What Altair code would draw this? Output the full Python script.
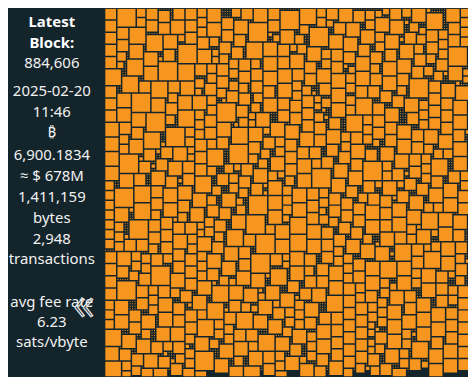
import altair as alt
import numpy as np
import pandas as pd

# ---------------- data ----------------
BG = "#14242b"
ORANGE = "#f7961f"

LABELS = ["Latest", "Block:", "884,606", "2025-02-20", "11:46", "₿",
          "6,900.1834", "≈ $ 678M", "1,411,159", "bytes", "2,948",
          "transactions", "avg fee rate", "6.23", "sats/vbyte"]
LABEL_Y = [21, 42, 62, 91, 112, 132, 155, 176, 197, 218, 239, 259, 302, 323, 343]
LABEL_BOLD = [1, 1, 0, 0, 0, 0, 0, 0, 0, 0, 0, 0, 0, 0, 0]

# transaction square sizes (grid units) in block order;
# letters are runs of the tiniest (1-unit) transactions
DOT_RUNS = {"a": 4, "b": 6, "c": 8, "d": 10, "e": 12}
TX_SIZES = [
    "5845b5546a4565c7456e35462b6548a5437d5465b4656",
    "45c6548a3546b2564d5457a4856c3654b5475e2456a5346",
    "6545b4365c4756a2546d5845b3456c4568a5645e3546b45",
    "5465a6457b3564c5426e4585a5736b5465d2456c4765a36",
    "4656c5345b6547a5264d5845b3756c4545e6254a5465b54",
    "5546a3465c5684b4526e5465a4356d5647b2564c5856a45",
    "6455b4536c5467a5245d6548b3654e5475a2465c5546b56",
    "4565a5364c6587b4256e5465d3546a5764b5426c6545a45",
    "5654c4536b5468a5245d6456b3545e6574a2546c5485b65",
    "4546a5365c4657b5264e5845a4356d5468b2456c5646a54",
    "6545b5436c5475a4256d5465b3645e5674a2564c4586b46",
    "5465a4356c6548b5246e4565d3564a5746b5265c6454a56",
    "4656c5436b5647a4265d6845b3456e5784a2645c5465b45",
    "5546a6345c4576b5246e5456a3465d5847b2546c5564a65",
    "6454b5346c5467a4526d5645b3564e4675a2456c5845b54",
    "4565a5436c6457b4265e5485d3546a5746b5246c6455a46",
    "5645c4356b5648a5246d4565b3654e5476a2564c5546b56",
    "4556a5364c4675b5426e5645a4365d6457b2465c5465a45",
    "6545b4536c5457a4256d5466b3546e5647a2546c4565b64",
    "5465a5346c6547b5264e4556d3465a5764b5246c6545a56",
    "4654c5436b5476a4526d6545b3564e5468a2654c5456b45",
    "5546a6354c4567b5246e5465a3456d4675b2564c5645a54",
]

GRID_COLS = 150

# ---------------- layout (packing) ----------------
sizes = []
for line in TX_SIZES:
    for ch in line:
        if ch in DOT_RUNS:
            sizes += [1] * DOT_RUNS[ch]
        else:
            sizes.append(int(ch))

H = 320
occ = np.zeros((H, GRID_COLS), dtype=np.int32)
placed = []
top = 0
for s in sizes:
    while occ[top].all():
        top += 1
    sub = occ[top:top + 90]
    c = np.zeros((sub.shape[0] + 1, GRID_COLS + 1), dtype=np.int32)
    c[1:, 1:] = sub.cumsum(0).cumsum(1)
    win = c[s:, s:] - c[:-s, s:] - c[s:, :-s] + c[:-s, :-s]
    k = int(np.flatnonzero(win.ravel() == 0)[0])
    r, col = divmod(k, win.shape[1])
    r += top
    occ[r:r + s, col:col + s] = 1
    placed.append((col, r, s))

# page offset of the chart is 8px (body margin)
OFF = 8
GX0, GY0, GW = 103.0 - OFF, 7.0 - OFF, 367.0
u = GW / GRID_COLS
g = 1.5 / u
df = pd.DataFrame(placed, columns=["col", "row", "s"])
df["x0"] = df["col"] + g / 2
df["x1"] = df["col"] + df["s"] - g / 2
df["y0"] = df["row"] + g / 2
df["y1"] = df["row"] + df["s"] - g / 2

W, Hh = 460, 369
xs = alt.Scale(domain=[-GX0 / u, (W - GX0) / u], nice=False, zero=False)
ys = alt.Scale(domain=[-GY0 / u, (Hh - GY0) / u], nice=False, zero=False, reverse=True)

rects = alt.Chart(df).mark_rect(color=ORANGE, clip=True).encode(
    x=alt.X("x0:Q", scale=xs, axis=None),
    x2="x1:Q",
    y=alt.Y("y0:Q", scale=ys, axis=None),
    y2="y1:Q",
)

tdf = pd.DataFrame({"label": LABELS, "py": [v - OFF for v in LABEL_Y], "bold": LABEL_BOLD})
FONT = "Segoe UI, Noto Sans, Open Sans, DejaVu Sans, sans-serif"
tys = alt.Scale(domain=[0, Hh], nice=False, zero=False, reverse=True)

txt_bold = alt.Chart(tdf).transform_filter("datum.bold == 1").mark_text(
    font=FONT, fontSize=15, fontWeight="bold", color="white", align="center", baseline="middle"
).encode(x=alt.value(50 - OFF), y=alt.Y("py:Q", scale=tys, axis=None), text="label:N")

txt_norm = alt.Chart(tdf).transform_filter("datum.bold == 0").mark_text(
    font=FONT, fontSize=15, color="#f2f2f2", align="center", baseline="middle"
).encode(x=alt.value(50 - OFF), y=alt.Y("py:Q", scale=tys, axis=None), text="label:N")

chev = alt.Chart(pd.DataFrame({"t": ["«"]})).mark_text(
    font=FONT, fontSize=46, fontWeight=300, fillOpacity=0, stroke="#e8e8e8", strokeWidth=1.2,
    align="center", baseline="middle"
).encode(x=alt.value(82 - OFF), y=alt.value(307 - OFF), text="t:N")

chart = alt.layer(rects, txt_bold, txt_norm, chev).resolve_scale(y="independent").properties(
    width=W, height=Hh, padding=0, background=BG,
).configure_view(stroke=None)

chart.save("out.html", embed_options={"renderer": "svg", "actions": False})
